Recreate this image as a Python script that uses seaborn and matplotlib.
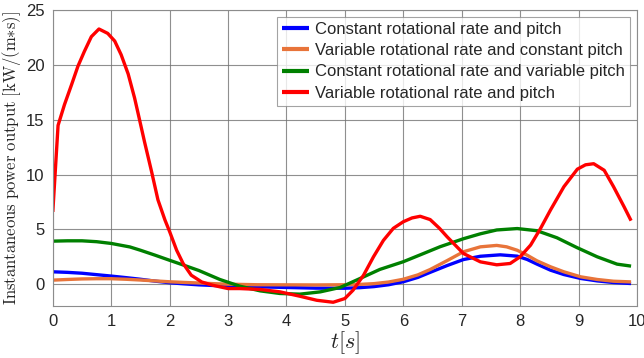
import numpy as np
import pandas as pd
import matplotlib
matplotlib.use("Agg")
import matplotlib.pyplot as plt
import seaborn as sns

# ---- data ----
t_blue = [0, 0.25, 0.5, 0.75, 1.0, 1.25, 1.5, 1.75, 2.0, 2.25, 2.5, 2.75, 3.0, 3.5, 4.0,
          4.5, 5.0, 5.25, 5.5, 5.75, 6.0, 6.25, 6.46, 6.75, 7.03, 7.32, 7.66, 7.95, 8.12,
          8.29, 8.52, 8.75, 9.04, 9.32, 9.6, 9.9]
blue = [1.13, 1.08, 1.0, 0.87, 0.74, 0.6, 0.45, 0.28, 0.13, 0.03, -0.06, -0.12, -0.17,
        -0.24, -0.3, -0.36, -0.37, -0.32, -0.22, -0.05, 0.22, 0.62, 1.08, 1.7, 2.25, 2.55,
        2.68, 2.56, 2.26, 1.83, 1.28, 0.88, 0.52, 0.3, 0.15, 0.06]

t_orange = [0, 0.25, 0.5, 0.75, 1.0, 1.25, 1.5, 1.75, 2.0, 2.25, 2.5, 2.75, 3.0, 3.5, 4.0,
            4.5, 5.0, 5.25, 5.5, 5.75, 6.0, 6.25, 6.46, 6.75, 7.03, 7.32, 7.6, 7.77, 7.95,
            8.12, 8.29, 8.52, 8.75, 9.04, 9.32, 9.6, 9.9]
orange = [0.37, 0.43, 0.48, 0.5, 0.5, 0.45, 0.38, 0.3, 0.22, 0.16, 0.11, 0.05, 0.0, -0.05,
          -0.06, -0.07, -0.05, -0.02, 0.05, 0.2, 0.45, 0.85, 1.34, 2.15, 2.96, 3.41, 3.54,
          3.41, 3.1, 2.65, 2.13, 1.59, 1.13, 0.67, 0.43, 0.27, 0.21]

t_green = [0, 0.25, 0.5, 0.75, 1.0, 1.32, 1.5, 1.75, 1.99, 2.25, 2.5, 2.86, 3.2, 3.55,
           3.89, 4.23, 4.58, 4.92, 5.26, 5.6, 6.0, 6.3, 6.63, 7.03, 7.32, 7.6, 7.95, 8.29,
           8.63, 8.97, 9.32, 9.66, 9.9]
green = [3.93, 3.96, 3.96, 3.88, 3.72, 3.4, 3.1, 2.65, 2.2, 1.72, 1.25, 0.43, -0.18,
         -0.61, -0.85, -0.91, -0.7, -0.3, 0.52, 1.35, 2.05, 2.7, 3.42, 4.15, 4.6, 4.95,
         5.08, 4.88, 4.24, 3.35, 2.5, 1.83, 1.65]

t_red = [0, 0.09, 0.2, 0.32, 0.43, 0.54, 0.66, 0.79, 0.94, 1.06, 1.17, 1.29, 1.4, 1.46,
         1.57, 1.69, 1.8, 1.92, 2.0, 2.12, 2.23, 2.37, 2.55, 2.74, 3.0, 3.2, 3.55, 3.89,
         4.23, 4.52, 4.8, 5.0, 5.14, 5.32, 5.49, 5.66, 5.83, 6.0, 6.15, 6.29, 6.46, 6.62,
         6.75, 7.03, 7.32, 7.6, 7.83, 8.0, 8.18, 8.35, 8.52, 8.75, 8.98, 9.12, 9.26, 9.44,
         9.6, 9.78, 9.9]
red = [6.6, 14.5, 16.4, 18.2, 19.9, 21.25, 22.6, 23.3, 22.9, 22.2, 20.95, 19.2, 17.0,
       15.6, 13.0, 10.3, 7.7, 5.86, 4.8, 3.1, 1.9, 0.82, 0.2, -0.1, -0.4, -0.4, -0.48,
       -0.7, -1.1, -1.47, -1.65, -1.31, -0.55, 0.82, 2.5, 4.0, 5.1, 5.7, 6.05, 6.2, 5.9,
       5.1, 4.33, 2.8, 2.04, 1.77, 1.89, 2.5, 3.57, 5.09, 6.77, 8.9, 10.5, 10.9, 11.0,
       10.4, 8.9, 7.07, 5.8]

labels = ["Constant rotational rate and pitch",
          "Variable rotational rate and constant pitch",
          "Constant rotational rate and variable pitch",
          "Variable rotational rate and pitch"]
colors = ["#0000FF", "#E8743A", "#008000", "#FF0000"]

xticks = list(range(0, 11))
yticks = [0, 5, 10, 15, 20, 25]

frames = []
for lab, tt, vv in zip(labels, [t_blue, t_orange, t_green, t_red],
                       [blue, orange, green, red]):
    frames.append(pd.DataFrame({"t": tt, "P": vv, "series": lab}))
df = pd.concat(frames, ignore_index=True)

# ---- plot ----
sns.set_style("white")
plt.rcParams["font.family"] = ["Liberation Sans", "DejaVu Sans"]
plt.rcParams["mathtext.fontset"] = "cm"
plt.rcParams["lines.solid_joinstyle"] = "round"
plt.rcParams["lines.solid_capstyle"] = "butt"

fig = plt.figure(figsize=(6.44, 3.58), dpi=100)
ax = fig.add_axes([0.082, 0.145, 0.907, 0.826])

sns.lineplot(data=df, x="t", y="P", hue="series", hue_order=labels,
             palette=dict(zip(labels, colors)), linewidth=2.4, sort=False,
             estimator=None, ax=ax)

ax.set_xlim(0, 10)
ax.set_ylim(-2, 25)
ax.set_xticks(xticks)
ax.set_yticks(yticks)
ax.tick_params(axis="both", labelsize=12, length=0, pad=6, colors="#262626")
ax.grid(True, color="0.45", linewidth=0.8, alpha=0.8)
for s in ax.spines.values():
    s.set_color("0.55")
    s.set_linewidth(0.8)

ax.set_xlabel(r"$t[s]$", fontsize=16, labelpad=0, color="#262626")
ax.set_ylabel(r"$\mathrm{Instantaneous\ power\ output\ [kW/(m{*}s)]}$", fontsize=12,
              labelpad=2, color="#262626")

leg = ax.legend(loc="upper right", bbox_to_anchor=(0.978, 0.953),
                bbox_transform=fig.transFigure, borderaxespad=0, fontsize=12,
                frameon=True, fancybox=False, handlelength=1.6, handletextpad=0.35,
                labelspacing=0.38, borderpad=0.3)
leg.get_frame().set_edgecolor("0.55")
leg.get_frame().set_linewidth(0.8)
for line in leg.get_lines():
    line.set_linewidth(3)

fig.savefig("out.png", dpi=100)
